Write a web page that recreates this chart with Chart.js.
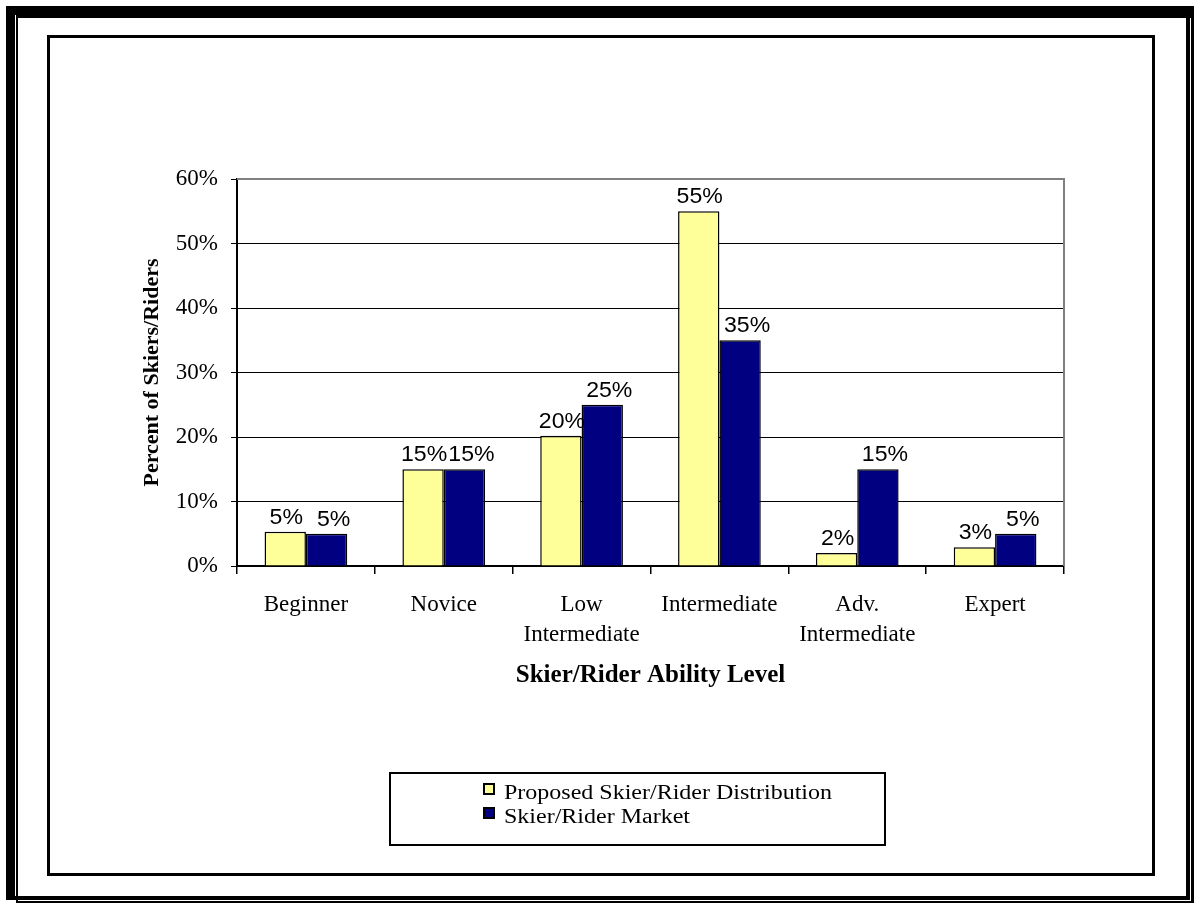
<!DOCTYPE html>
<html>
<head>
<meta charset="utf-8">
<script src="https://cdn.jsdelivr.net/npm/chart.js@4/dist/chart.umd.min.js"></script>
<style>
  html, body { margin: 0; padding: 0; background: #fff; }
  #wrap { position: relative; width: 1195px; height: 905px; }
</style>
</head>
<body>
<div id="wrap"><canvas id="abilityChart"></canvas></div>
<script>
// chart data
const levels = ["Beginner", "Novice", ["Low", "Intermediate"], "Intermediate", ["Adv.", "Intermediate"], "Expert"];
const proposed = [5.3, 15, 20.2, 55, 2, 2.9];
const market = [5, 15, 25, 35, 15, 5];
const yTicks = [0, 10, 20, 30, 40, 50, 60];
const seriesNames = ["Proposed Skier/Rider Distribution", "Skier/Rider Market"];

const serif = "'Liberation Serif', 'Times New Roman', serif";
const sans = "'Liberation Sans', Arial, sans-serif";

// page frames (double outer border + inner box) and gray plot border
const framePlugin = {
    id: "frames",
    beforeDraw(chart) {
        const c = chart.ctx;
        c.save();
        c.fillStyle = "#fff";
        c.fillRect(0, 0, chart.width, chart.height);
        c.fillStyle = "#000";
        // outer double border
        c.fillRect(6, 6, 9, 894);      // left thick
        c.fillRect(16, 15, 2, 888);    // left thin
        c.fillRect(6, 6, 1188, 9);     // top thick
        c.fillRect(16, 15, 1178, 3);   // top thin
        c.fillRect(1186, 15, 4, 885);  // right
        c.fillRect(1191, 6, 3, 897);   // right outer
        c.fillRect(6, 896, 1184, 4);   // bottom
        c.fillRect(16, 901, 1178, 2);  // bottom outer
        // inner frame
        c.fillRect(47, 35, 3, 841);
        c.fillRect(47, 35, 1108, 3);
        c.fillRect(1152, 35, 3, 841);
        c.fillRect(47, 873, 1108, 3);
        c.restore();
    },
    beforeDatasetsDraw(chart) {
        const {ctx, chartArea: a} = chart;
        ctx.save();
        ctx.strokeStyle = "#808080";
        ctx.lineWidth = 2;
        ctx.beginPath();
        ctx.moveTo(a.left, a.top);
        ctx.lineTo(a.right, a.top);
        ctx.lineTo(a.right, a.bottom);
        ctx.stroke();
        ctx.restore();
    },
};

// value labels over bars (text is a bit wide in the original, so stretch it)
const valueLabels = {
    id: "valueLabels",
    afterDatasetsDraw(chart) {
        const ctx = chart.ctx;
        const sx = 1.05;
        // second series labels sit a little to the right in the original
        const shift = [1, 7];
        ctx.save();
        ctx.font = "22px " + sans;
        ctx.fillStyle = "#000";
        ctx.textAlign = "center";
        ctx.textBaseline = "alphabetic";
        chart.data.datasets.forEach((ds, i) => {
            chart.getDatasetMeta(i).data.forEach((bar, j) => {
                ctx.save();
                ctx.translate(bar.x + shift[i], bar.y - 8);
                ctx.scale(sx, 1);
                ctx.fillText(Math.round(ds.data[j]) + "%", 0, 0);
                ctx.restore();
            });
        });
        ctx.restore();
    },
};

// boxed legend under the chart
const boxLegend = {
    id: "boxLegend",
    afterDraw(chart) {
        const ctx = chart.ctx;
        ctx.save();
        ctx.strokeStyle = "#000";
        ctx.lineWidth = 2;
        ctx.strokeRect(390, 773, 495, 72);
        ctx.font = "20px " + serif;
        ctx.textBaseline = "alphabetic";
        chart.data.datasets.forEach((ds, i) => {
            const y = 799 + i * 24;
            ctx.fillStyle = ds.backgroundColor;
            ctx.fillRect(484, y - 15, 10, 10);
            ctx.lineWidth = 2;
            ctx.strokeRect(484, y - 15, 10, 10);
            ctx.fillStyle = "#000";
            ctx.save();
            ctx.translate(504, y);
            ctx.scale(1.2, 1);
            ctx.fillText(ds.label, 0, 0);
            ctx.restore();
        });
        ctx.restore();
    },
};

const ctx = document.getElementById("abilityChart").getContext("2d");

new Chart(ctx, {
    type: "bar",
    data: {
        labels: levels,
        datasets: [
            {
                label: seriesNames[0],
                // pale yellow
                backgroundColor: "#FFFF99",
                borderColor: "#000",
                borderWidth: 1.5,
                data: proposed,
            },
            {
                label: seriesNames[1],
                // navy
                backgroundColor: "#000080",
                borderColor: "#000",
                borderWidth: 1.5,
                data: market,
            },
        ],
    },
    options: {
        responsive: true,
        maintainAspectRatio: false,
        animation: false,
        devicePixelRatio: 1,
        layout: {
            padding: { left: 139, right: 131, top: 179, bottom: 214 },
        },
        datasets: {
            bar: { categoryPercentage: 0.6, barPercentage: 1.0 },
        },
        plugins: {
            legend: { display: false },
            tooltip: { enabled: false },
        },
        scales: {
            y: {
                min: 0,
                max: 60,
                afterFit(scale) { scale.width = 98; },
                afterBuildTicks(scale) {
                    scale.ticks = yTicks.map((v) => ({ value: v }));
                },
                border: { color: "#000", width: 2 },
                grid: {
                    color: "#000",
                    lineWidth: 1,
                    tickLength: 6,
                    tickColor: "#000",
                },
                ticks: {
                    padding: 13,
                    color: "#000",
                    font: { family: serif, size: 23 },
                    callback: (v) => v + "%",
                },
                title: {
                    display: true,
                    text: "Percent of Skiers/Riders",
                    color: "#000",
                    padding: 0,
                    font: { family: serif, size: 22, weight: "bold" },
                },
            },
            x: {
                afterFit(scale) { scale.height = 125; },
                border: { color: "#000", width: 2 },
                grid: {
                    offset: true,
                    drawOnChartArea: false,
                    tickLength: 8,
                    tickColor: "#000",
                    lineWidth: 1.5,
                },
                ticks: {
                    padding: 16,
                    color: "#000",
                    maxRotation: 0,
                    font: { family: serif, size: 23, lineHeight: 1.3 },
                },
                title: {
                    display: true,
                    text: "Skier/Rider Ability Level",
                    color: "#000",
                    padding: 0,
                    font: { family: serif, size: 25, weight: "bold", lineHeight: 1.2 },
                },
            },
        },
    },
    plugins: [framePlugin, valueLabels, boxLegend],
});
</script>
</body>
</html>
